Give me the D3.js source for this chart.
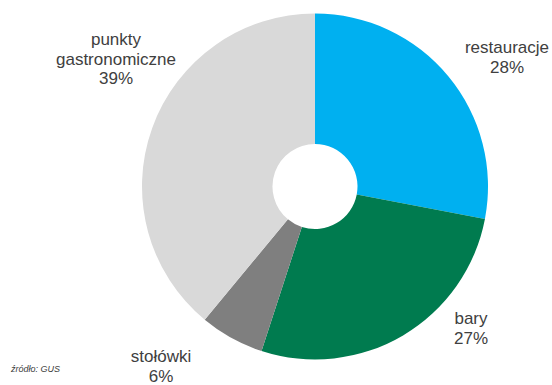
<!DOCTYPE html>
<html>
<head>
<meta charset="utf-8">
<script src="https://cdn.jsdelivr.net/npm/d3@7"></script>
<style>
  html, body { margin: 0; padding: 0; background: #fff; }
  svg { display: block; }
  text { font-family: "Liberation Sans", Arial, sans-serif; fill: #404040; }
</style>
</head>
<body>
<svg id="chart" width="552" height="385"></svg>
<script>
// Structure of catering outlets (share, %)
const categories = ["restauracje", "bary", "stołówki", "punkty gastronomiczne"];
const shares = [28, 27, 6, 39];
const colors = ["#00B0F0", "#007B4F", "#7F7F7F", "#D9D9D9"];
const labelLines = [["restauracje"], ["bary"], ["stołówki"], ["punkty", "gastronomiczne"]];
const source = "źródło: GUS";

const svg = d3.select("#chart");
const cx = 315, cy = 186.5, outerR = 173, innerR = 42.5;

const data = categories.map((c, i) => ({ name: c, value: shares[i], color: colors[i], lines: labelLines[i] }));

const pie = d3.pie().value(d => d.value).sort(null);
const arc = d3.arc().innerRadius(innerR).outerRadius(outerR);
const arcs = pie(data);

const g = svg.append("g").attr("transform", `translate(${cx},${cy})`);
g.selectAll("path")
  .data(arcs)
  .join("path")
  .attr("d", arc)
  .attr("fill", d => d.data.color);

// Label anchors placed outside the ring
const labelPos = {
  "restauracje": [507, 53],
  "bary": [471, 324],
  "stołówki": [161, 362],
  "punkty gastronomiczne": [116, 45]
};
const lineH = 19.5;
arcs.forEach(a => {
  const [x, y] = labelPos[a.data.name];
  const t = svg.append("text")
    .attr("x", x).attr("y", y)
    .attr("text-anchor", "middle")
    .style("font-size", "17px");
  const lines = a.data.lines.concat([a.data.value + "%"]);
  lines.forEach((ln, i) => {
    t.append("tspan").attr("x", x).attr("y", y + i * lineH).text(ln);
  });
});

svg.append("text")
  .attr("x", 11).attr("y", 372)
  .style("font-size", "9px")
  .style("font-style", "italic")
  .text(source);
</script>
</body>
</html>
